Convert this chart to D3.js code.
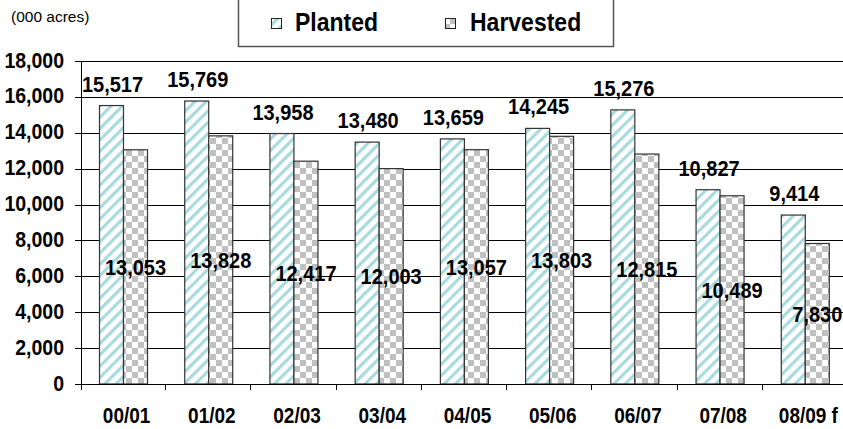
<!DOCTYPE html>
<html>
<head>
<meta charset="utf-8">
<script src="https://cdn.jsdelivr.net/npm/d3@7"></script>
<style>
  html, body { margin: 0; padding: 0; background: #fff; }
  svg { display: block; }
  text { font-family: "Liberation Sans", Arial, sans-serif; }
</style>
</head>
<body>
<svg id="chart" width="843" height="429"></svg>
<script>
const categories = ["00/01", "01/02", "02/03", "03/04", "04/05", "05/06", "06/07", "07/08", "08/09 f"];
const planted = [15517, 15769, 13958, 13480, 13659, 14245, 15276, 10827, 9414];
const harvested = [13053, 13828, 12417, 12003, 13057, 13803, 12815, 10489, 7830];
const yTicks = [0, 2000, 4000, 6000, 8000, 10000, 12000, 14000, 16000, 18000];
const seriesNames = ["Planted", "Harvested"];
const unitLabel = "(000 acres)";

(function () {
const svg = d3.select("#chart");
const pLeft = 81, pRight = 847, pTop = 61, pBottom = 384;
const SY = 1.12;

const fmt = d3.format(",");

const x = d3.scaleBand().domain(categories).range([80, pRight]).paddingInner(0).paddingOuter(0);
const y = d3.scaleLinear().domain([0, 18000]).range([pBottom, pTop]);
const sub = d3.scaleBand().domain(seriesNames).range([0, 48]);
const barOffset = 19.5;

// patterns
const defs = svg.append("defs");
const stripe = defs.append("pattern").attr("id", "stripe")
  .attr("patternUnits", "userSpaceOnUse").attr("width", 8).attr("height", 8)
  .attr("patternTransform", "rotate(45)");
stripe.append("rect").attr("width", 8).attr("height", 8).attr("fill", "#fff");
stripe.append("rect").attr("x", 0).attr("width", 3.2).attr("height", 8).attr("fill", "#a9dade");

const checker = defs.append("pattern").attr("id", "checker")
  .attr("patternUnits", "userSpaceOnUse").attr("width", 12).attr("height", 12);
checker.append("rect").attr("width", 12).attr("height", 12).attr("fill", "#fff");
checker.append("rect").attr("width", 6).attr("height", 6).attr("fill", "#c0c0c0");
checker.append("rect").attr("x", 6).attr("y", 6).attr("width", 6).attr("height", 6).attr("fill", "#c0c0c0");

const fills = { "Planted": "url(#stripe)", "Harvested": "url(#checker)" };

function stretchedText(g, tx, ty, str, size, anchor) {
  return g.append("text")
    .attr("transform", `translate(${tx},${ty}) scale(1,${SY})`)
    .attr("text-anchor", anchor || "middle")
    .attr("font-weight", "bold")
    .attr("font-size", size)
    .attr("fill", "#000")
    .text(str);
}

// gridlines
svg.append("g").selectAll("line").data(yTicks.filter(d => d > 0)).join("line")
  .attr("x1", 75).attr("x2", pRight).attr("y1", d => Math.round(y(d)) + 0.5).attr("y2", d => Math.round(y(d)) + 0.5)
  .attr("stroke", "#000").attr("stroke-width", 1);

// bars
const data = [];
categories.forEach((c, i) => {
  data.push({ cat: c, s: "Planted", v: planted[i] });
  data.push({ cat: c, s: "Harvested", v: harvested[i] });
});
svg.append("g").selectAll("rect").data(data).join("rect")
  .attr("x", d => x(d.cat) + barOffset + sub(d.s))
  .attr("y", d => y(d.v))
  .attr("width", sub.bandwidth())
  .attr("height", d => pBottom - y(d.v))
  .attr("fill", d => fills[d.s])
  .attr("stroke", "#333").attr("stroke-width", 1.2);

// axes
svg.append("line").attr("x1", pLeft + 0.5).attr("x2", pLeft + 0.5).attr("y1", pTop).attr("y2", pBottom + 6)
  .attr("stroke", "#000");
svg.append("line").attr("x1", 75).attr("x2", pRight).attr("y1", pBottom + 0.5).attr("y2", pBottom + 0.5)
  .attr("stroke", "#000");
// bottom ticks at category boundaries
svg.append("g").selectAll("line").data(categories.slice(1)).join("line")
  .attr("x1", d => Math.round(x(d)) + 0.5).attr("x2", d => Math.round(x(d)) + 0.5)
  .attr("y1", pBottom).attr("y2", pBottom + 6).attr("stroke", "#000");

// y tick labels
const yl = svg.append("g");
yTicks.forEach(t => {
  stretchedText(yl, 64, y(t) + 6.5, fmt(t), 19.5, "end");
});

// x labels
const xl = svg.append("g");
categories.forEach(c => {
  stretchedText(xl, x(c) + x.bandwidth() / 2 + 4, 423, c, 19, "middle");
});

// value labels
const vl = svg.append("g");
categories.forEach((c, i) => {
  const px = x(c) + barOffset + sub("Planted") + sub.bandwidth() / 2;
  stretchedText(vl, px + 1, y(planted[i]) - 14, fmt(planted[i]), 20, "middle");
  const hx = x(c) + barOffset + sub("Harvested") + sub.bandwidth() / 2;
  stretchedText(vl, hx, (y(harvested[i]) + pBottom) / 2 + 8, fmt(harvested[i]), 20, "middle");
});

// unit label
svg.append("text").attr("x", 11).attr("y", 22).attr("font-size", 15.5).attr("fill", "#000").text(unitLabel);

// legend
const lg = svg.append("g");
lg.append("rect").attr("x", 238.5).attr("y", -5).attr("width", 375).attr("height", 51.5)
  .attr("fill", "#fff").attr("stroke", "#555").attr("stroke-width", 1.5);
const legendPos = [{ sx: 271, tx: 295 }, { sx: 445, tx: 470 }];
seriesNames.forEach((s, i) => {
  lg.append("rect").attr("x", legendPos[i].sx + 0.5).attr("y", 18.5).attr("width", 10).attr("height", 10)
    .attr("fill", fills[s]).attr("stroke", "#222").attr("stroke-width", 1);
  stretchedText(lg, legendPos[i].tx, 31, s, 23, "start");
});
})();
</script>
</body>
</html>
